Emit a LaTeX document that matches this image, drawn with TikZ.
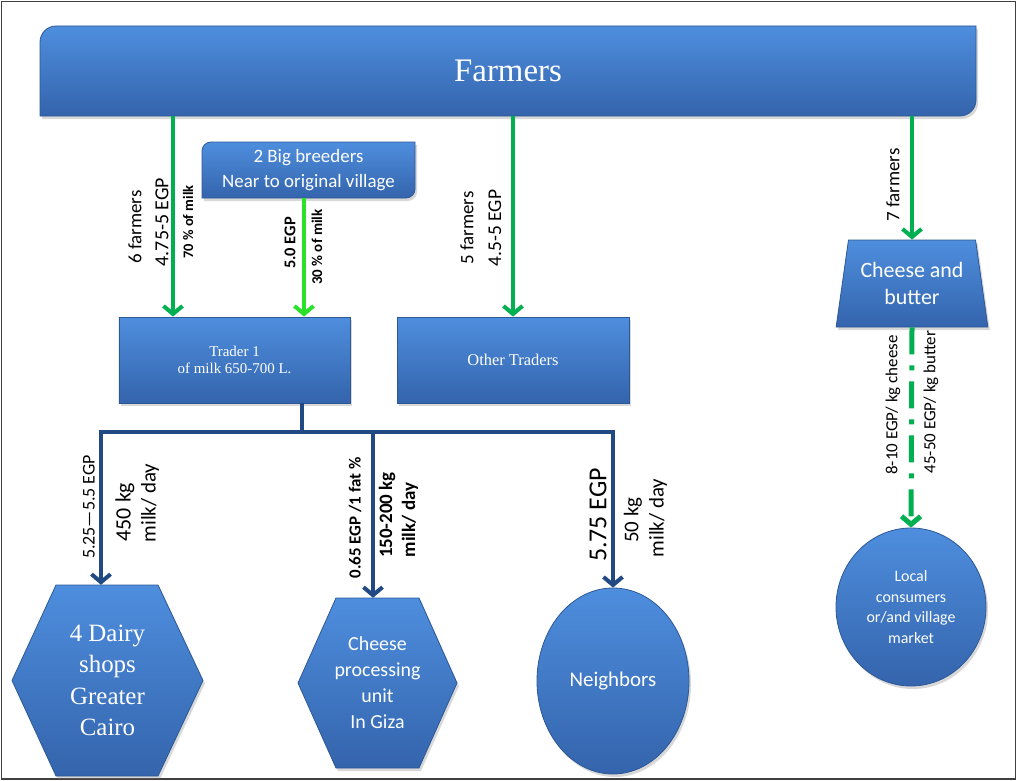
\documentclass[tikz,border=0pt]{standalone}
\usepackage{fontspec}
\setmainfont{Carlito}
\newfontfamily\tms{Liberation Serif}
\usetikzlibrary{arrows.meta,shapes.geometric,shadows,calc}

\definecolor{bluetop}{RGB}{78,142,222}
\definecolor{bluebot}{RGB}{52,100,172}
\definecolor{blueedge}{RGB}{45,88,150}
\definecolor{gline}{RGB}{0,176,80}
\definecolor{limeg}{RGB}{40,225,40}
\definecolor{navyl}{RGB}{33,74,132}

\tikzset{
  bluefill/.style={top color=bluetop, bottom color=bluebot, draw=blueedge, line width=0.8bp,
    drop shadow={shadow xshift=2bp, shadow yshift=-3bp, opacity=0.3}},
  lbl/.style={inner sep=0pt, text=white, align=center},
  garrow/.style={draw=gline, line width=4bp, -{Straight Barb[length=8bp,width=19bp]}},
  larrow/.style={draw=limeg, line width=4bp, -{Straight Barb[length=8bp,width=19bp]}},
  gdash/.style={draw=gline, line width=5bp, dash pattern=on 27bp off 11bp on 5bp off 11bp,
    -{Straight Barb[length=8bp,width=19bp]}},
  navyarrow/.style={draw=navyl, line width=4bp, -{Straight Barb[length=8bp,width=19bp]}},
  navyline/.style={draw=navyl, line width=4bp},
  rlab/.style={rotate=90, inner sep=0pt, text=black},
}

\newcommand\myrdbox[5]{\path[bluefill] (#1,#4) -- (#1,{#2+#5}) .. controls (#1,{#2+0.45*#5}) and ({#1+0.45*#5},#2) .. ({#1+#5},#2) -- (#3,#2) -- (#3,{#4-#5}) .. controls (#3,{#4-0.45*#5}) and ({#3-0.45*#5},#4) .. ({#3-#5},#4) -- cycle;}

\begin{document}
\begin{tikzpicture}[x=1bp,y=-1bp]
\useasboundingbox (0,0) rectangle (1017,781);
\fill[white] (0,0) rectangle (1017,781);
\draw[line width=1.5bp, draw=black!75] (1.5,1.5) rectangle (1015.5,779);

% Farmers
\myrdbox{40}{26}{976}{116}{16}
\node[lbl, minimum width=936bp, minimum height=90bp, font=\tms\fontsize{33}{40}\selectfont] (farmers) at (508,71) {Farmers};

% Big breeders
\myrdbox{202}{142}{415}{198}{9}
\node[lbl, minimum width=213bp, minimum height=56bp, font=\fontsize{19}{25}\selectfont] (breed) at (308.5,170) {2 Big breeders\\Near to original village};

% Traders
\node[bluefill, lbl, rectangle, minimum width=231bp, minimum height=86bp, font=\tms\fontsize{15}{17}\selectfont] (trader) at (234.5,360) {Trader 1\\of milk 650-700 L.};
\node[bluefill, lbl, rectangle, minimum width=232bp, minimum height=86bp, font=\tms\fontsize{16.5}{20}\selectfont] (other) at (513,360) {Other Traders};

% Cheese and butter
\node[bluefill, lbl, trapezium, trapezium stretches=true, trapezium left angle=77, trapezium right angle=77, minimum width=152bp, minimum height=87bp, font=\fontsize{22}{28}\selectfont] (cab) at (912,283.5) {Cheese and\\butter};

% Local consumers
\node[bluefill, lbl, ellipse, minimum width=150bp, minimum height=158bp, font=\fontsize{16}{21}\selectfont] (local) at (911,607) {Local\\consumers\\or/and village\\market};

% Dairy shops hexagon
\path[bluefill] (12,680.5) -- (56,585) -- (158,585) -- (203,680.5) -- (158,776) -- (56,776) -- cycle;
\node[lbl, minimum width=191bp, minimum height=191bp, font=\tms\fontsize{25}{31.5}\selectfont] (dairy) at (107.5,680.5) {4 Dairy\\shops\\Greater\\Cairo};

% Cheese processing unit hexagon
\path[bluefill] (298,683) -- (336,598) -- (419,598) -- (457,683) -- (419,768) -- (336,768) -- cycle;
\node[lbl, minimum width=159bp, minimum height=170bp, font=\fontsize{20}{26}\selectfont] (unit) at (377.5,683) {Cheese\\processing\\unit\\In Giza};

% Neighbors
\node[bluefill, lbl, ellipse, minimum width=152bp, minimum height=186bp, font=\fontsize{21}{25}\selectfont] (neigh) at (613,681) {Neighbors};

% green connectors
\coordinate (gA) at (173,200);
\coordinate (gB) at (304,250);
\draw[garrow] (gA |- farmers.south) -- (gA |- trader.north);
\draw[larrow] (gB |- breed.south) -- (gB |- trader.north);
\draw[garrow] (farmers.south -| other.north) -- (other.north);
\draw[garrow] (farmers.south -| cab.north) -- (cab.north);
\draw[gdash] (cab.south) -- (local.north);

% navy connectors
\coordinate (trunk) at (302,432);
\coordinate (b1) at (101,432);
\coordinate (b2) at (373,432);
\coordinate (b3) at (613,432);
\draw[navyline] (trader.south -| trunk) -- (trunk);
\draw[navyarrow] (b2) -- (b1) -- (b1 |- dairy.north);
\draw[navyarrow] (b2) -- (b3) -- (b3 |- neigh.north);
\draw[navyarrow] (b2) -- (b2 |- unit.north);

% labels upper
\node[rlab, font=\fontsize{19}{23}\selectfont] (l1) at (135,227) {6 farmers};
\node[rlab, font=\fontsize{20}{24}\selectfont] (l2) at (162,222) {4.75-5 EGP};
\node[rlab, font=\bfseries\fontsize{14.5}{17}\selectfont] (l3) at (188,222) {70 \% of milk};
\node[rlab, font=\bfseries\fontsize{16.5}{20}\selectfont] (l4) at (290,243) {5.0 EGP};
\node[rlab, font=\bfseries\fontsize{15}{18}\selectfont] (l5) at (317,247) {30 \% of milk};
\node[rlab, font=\fontsize{19}{23}\selectfont] (l6) at (467,228) {5 farmers};
\node[rlab, font=\fontsize{19.5}{23}\selectfont] (l7) at (495,228) {4.5-5 EGP};
\node[rlab, font=\fontsize{19}{23}\selectfont] (l8) at (893,185) {7 farmers};
\node[rlab, font=\fontsize{17}{20}\selectfont] (l9) at (893,405) {8-10 EGP/ kg cheese};
\node[rlab, font=\fontsize{17}{20}\selectfont] (l10) at (931,402) {45-50 EGP/ kg butter};

% labels lower
\node[rlab, font=\fontsize{18}{21}\selectfont] (l11) at (89,507) {5.25—5.5 EGP};
\node[rlab, font=\fontsize{22}{26}\selectfont] (l12) at (125,512) {450 kg};
\node[rlab, font=\fontsize{21}{25}\selectfont] (l13) at (150,503) {milk/ day};
\node[rlab, font=\bfseries\fontsize{17}{20}\selectfont] (l14) at (355,518) {0.65 EGP /1 fat \%};
\node[rlab, font=\bfseries\fontsize{19}{22}\selectfont] (l15) at (387,515) {150-200 kg};
\node[rlab, font=\bfseries\fontsize{19}{22}\selectfont] (l16) at (410,520) {milk/ day};
\node[rlab, font=\fontsize{26}{30}\selectfont] (l17) at (598,515) {5.75 EGP};
\node[rlab, font=\fontsize{21}{25}\selectfont] (l18) at (633,520) {50 kg};
\node[rlab, font=\fontsize{21}{25}\selectfont] (l19) at (658,518) {milk/ day};
\end{tikzpicture}
\end{document}
